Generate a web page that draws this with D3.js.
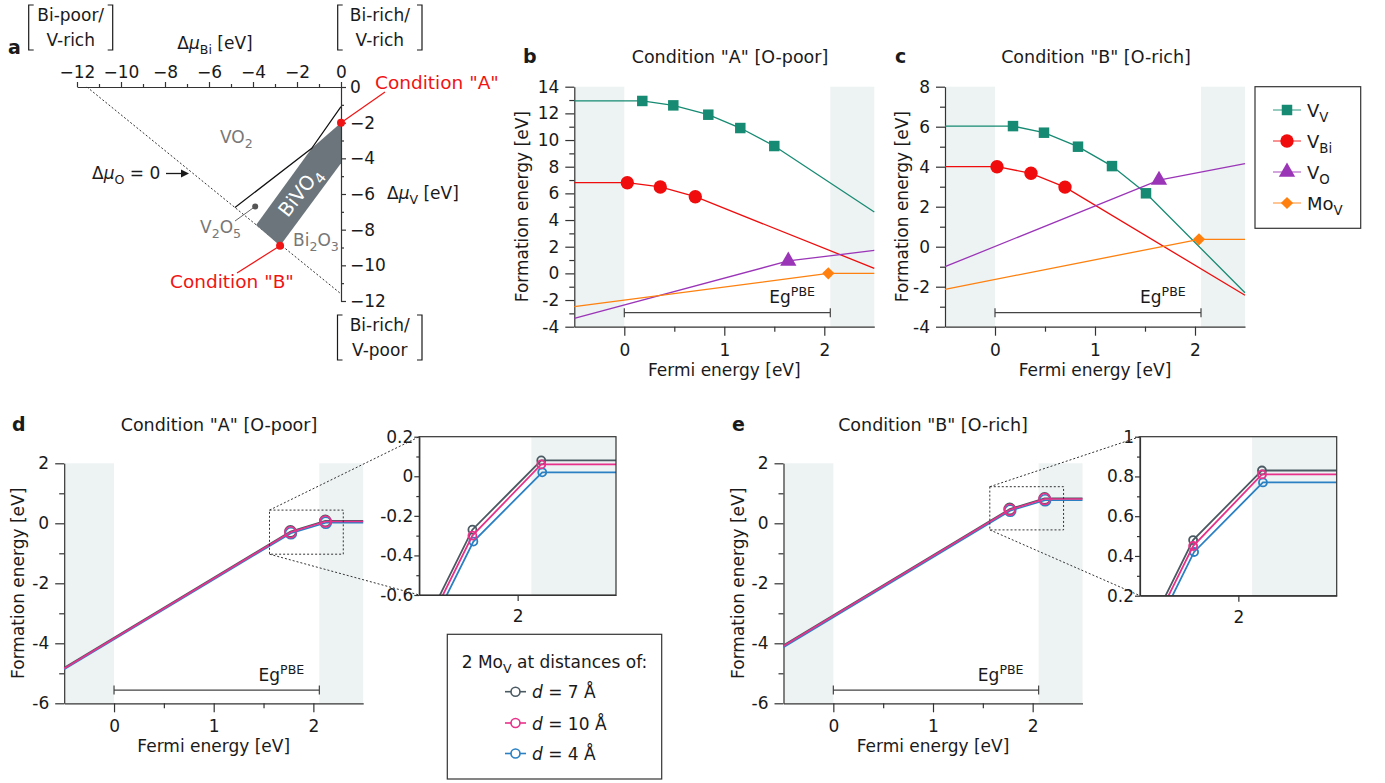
<!DOCTYPE html>
<html>
<head>
<meta charset="utf-8">
<script src="https://cdn.jsdelivr.net/npm/d3@7/dist/d3.min.js"></script>
<style>
  body { margin: 0; background: #fff; }
  svg text { font-family: "DejaVu Sans", sans-serif; }
</style>
</head>
<body>
<svg id="fig" width="1385" height="783"></svg>
<script>
// ---- values (all in eV) ----

// a: chemical potential map (x = mu_Bi, y = mu_V)
const muBiTicks = [-12, -10, -8, -6, -4, -2, 0];
const muVTicks = [0, -2, -4, -6, -8, -10, -12];
const bivo4Region = [[0, -2.0], [0, -4.28], [-2.77, -8.9], [-3.86, -7.74], [-1.33, -3.44]];
const muOZeroLine = [[-11.55, 0], [0, -11.6]];
const vo2Boundary = [[-4.82, -6.76], [-1.33, -3.44], [0, -1.1]];
const conditionA = [0, -2.0];
const conditionB = [-2.77, -8.9];
const v2o5Point = [-3.9, -6.7];

// b, c: [Fermi energy, formation energy]; inner points are the transition levels
const vvA  = [[-0.5, 12.93], [0.18, 12.93], [0.49, 12.6], [0.84, 11.9], [1.16, 10.9], [1.50, 9.55], [2.5, 4.6]];
const vbiA = [[-0.5, 6.8], [0.03, 6.8], [0.36, 6.48], [0.71, 5.75], [2.5, 0.38]];
const voA  = [[-0.5, -3.37], [1.64, 0.93], [2.5, 1.72]];
const movA = [[-0.5, -2.5], [2.04, 0.0], [2.5, 0.0]];

const vvB  = [[-0.5, 6.03], [0.18, 6.03], [0.49, 5.7], [0.83, 5.0], [1.17, 4.03], [1.51, 2.67], [2.5, -2.3]];
const vbiB = [[-0.5, 4.0], [0.02, 4.0], [0.36, 3.67], [0.70, 2.98], [2.5, -2.43]];
const voB  = [[-0.5, -1.0], [1.64, 3.33], [2.5, 4.15]];
const movB = [[-0.5, -2.13], [2.04, 0.37], [2.5, 0.37]];

// d, e: two Mo_V at d = 7, 10, 4 Å
const mo7A  = [[-0.5, -4.81], [1.77, -0.27], [2.12, 0.08], [2.5, 0.08]];
const mo10A = [[-0.5, -4.84], [1.77, -0.30], [2.12, 0.06], [2.5, 0.06]];
const mo4A  = [[-0.5, -4.87], [1.775, -0.33], [2.125, 0.02], [2.5, 0.02]];
const mo7B  = [[-0.5, -4.06], [1.77, 0.48], [2.12, 0.83], [2.5, 0.83]];
const mo10B = [[-0.5, -4.09], [1.77, 0.45], [2.12, 0.81], [2.5, 0.81]];
const mo4B  = [[-0.5, -4.13], [1.775, 0.42], [2.125, 0.77], [2.5, 0.77]];

const gapEdges = [0, 2.06];
const fermiTicks = [0, 1, 2];
const fermiMinor = [0.5, 1.5];

// ---- styles ----
const INK = "#1a1a1a", AX = "#333", BAND = "#edf2f2";
const cVV = "#168a72", cVBi = "#f00c0c", cVO = "#9b35b8", cMoV = "#ff800e";
const c7 = "#4b5a62", c10 = "#e8318a", c4 = "#2a80c3";

const svg = d3.select("#fig");
const fmtInt = d => String(d);                 // figure uses plain hyphen
const fmtDec = d => d === 0 ? "0" : String(Math.round(d * 10) / 10);

// text with sub/superscripts and italics
function rich(sel, x, y, parts, size, anchor, fill) {
  const t = sel.append("text").attr("x", x).attr("y", y)
    .attr("font-size", size).attr("text-anchor", anchor || "start").attr("fill", fill || INK);
  let shift = 0;
  parts.forEach(p => {
    const [s, k] = typeof p === "string" ? [p, "n"] : p;
    const target = k === "sub" ? size * 0.3 : k === "sup" ? -size * 0.4 : 0;
    const ts = t.append("tspan").text(s).attr("dy", target - shift);
    shift = target;
    if (k === "sub" || k === "sup") ts.attr("font-size", size * 0.74);
    if (k === "i") ts.attr("font-style", "italic");
  });
  return t;
}

function styleAxis(sel, size) {
  sel.attr("font-family", null).attr("font-size", size).attr("color", AX);
  sel.selectAll("text").attr("fill", INK);
  sel.selectAll("line,path").attr("stroke-width", 1.2);
}

function symbolPath(shape) {
  if (shape === "square") return d3.symbol(d3.symbolSquare, 110)();
  if (shape === "circle") return d3.symbol(d3.symbolCircle, 140)();
  if (shape === "triangle") return d3.symbol(d3.symbolTriangle, 115)();
  return d3.symbol(d3.symbolSquare, 75)();
}

function drawSeries(g, x, y, pts, color, width, shape, r) {
  g.append("path").datum(pts)
    .attr("d", d3.line().x(d => x(d[0])).y(d => y(d[1])))
    .attr("fill", "none").attr("stroke", color).attr("stroke-width", width);
  const inner = pts.slice(1, -1);
  if (shape === "open") {
    g.selectAll(null).data(inner).enter().append("circle")
      .attr("cx", d => x(d[0])).attr("cy", d => y(d[1])).attr("r", r)
      .attr("fill", "none").attr("stroke", color).attr("stroke-width", width);
  } else {
    g.selectAll(null).data(inner).enter().append("path")
      .attr("d", symbolPath(shape))
      .attr("transform", d => `translate(${x(d[0])},${y(d[1])})` + (shape === "diamond" ? " rotate(45)" : ""))
      .attr("fill", color);
  }
}

// formation energy panel (b-e)
function fermiPanel(o) {
  const x = d3.scaleLinear().domain([-0.5, 2.5]).range(o.xr);
  const y = d3.scaleLinear().domain(o.yd).range(o.yr);
  const g = svg.append("g");
  const top = o.yr[1], bot = o.yr[0];
  [[-0.5, gapEdges[0]], [gapEdges[1], 2.5]].forEach(b =>
    g.append("rect").attr("x", x(b[0])).attr("y", top)
      .attr("width", x(b[1]) - x(b[0])).attr("height", bot - top).attr("fill", BAND));

  const ey = y(o.egY);
  g.append("path")
    .attr("d", `M${x(gapEdges[0])},${ey}H${x(gapEdges[1])}M${x(gapEdges[0])},${ey - 4.5}v9M${x(gapEdges[1])},${ey - 4.5}v9`)
    .attr("stroke", "#444").attr("stroke-width", 1.2).attr("fill", "none");
  rich(g, x(1.45), ey - 9.5, ["Eg", ["PBE", "sup"]], 17);

  g.append("g").attr("transform", `translate(${o.xr[0]},0)`)
    .call(d3.axisLeft(y).tickValues(o.yt).tickFormat(fmtInt).tickSize(9).tickPadding(6).tickSizeOuter(0))
    .call(s => styleAxis(s, 17));
  g.append("g").attr("transform", `translate(${o.xr[0]},0)`)
    .call(d3.axisLeft(y).tickValues(o.ym).tickFormat("").tickSize(5))
    .call(s => { s.select(".domain").remove(); styleAxis(s, 17); });
  g.append("g").attr("transform", `translate(0,${bot})`)
    .call(d3.axisBottom(x).tickValues(fermiTicks).tickFormat(fmtInt).tickSize(9).tickPadding(8).tickSizeOuter(0))
    .call(s => styleAxis(s, 17));
  g.append("g").attr("transform", `translate(0,${bot})`)
    .call(d3.axisBottom(x).tickValues(fermiMinor).tickFormat("").tickSize(5))
    .call(s => { s.select(".domain").remove(); styleAxis(s, 17); });

  g.append("text").attr("transform", `translate(${o.ylabX},${(top + bot) / 2}) rotate(-90)`)
    .attr("text-anchor", "middle").attr("font-size", 17).attr("fill", INK).text("Formation energy [eV]");
  g.append("text").attr("x", x(1)).attr("y", bot + 49).attr("text-anchor", "middle")
    .attr("font-size", 17).attr("fill", INK).text("Fermi energy [eV]");
  g.append("text").attr("x", o.titleX).attr("y", o.titleY).attr("text-anchor", "middle")
    .attr("font-size", 17.5).attr("fill", INK).text(o.title);
  g.append("text").attr("x", o.letterX).attr("y", o.titleY).attr("font-size", 19)
    .attr("font-weight", "bold").attr("fill", INK).text(o.letter);
  return { g, x, y };
}

// zoomed inset (d, e)
function insetPanel(o, id, series) {
  const x = d3.scaleLinear().domain([1.5, 2.5]).range(o.xr);
  const y = d3.scaleLinear().domain(o.yd).range(o.yr);
  const g = svg.append("g");
  const top = o.yr[1], bot = o.yr[0];
  g.append("rect").attr("x", x(2.07)).attr("y", top).attr("width", x(2.5) - x(2.07))
    .attr("height", bot - top).attr("fill", BAND);
  svg.append("clipPath").attr("id", id).append("rect")
    .attr("x", o.xr[0]).attr("y", top).attr("width", o.xr[1] - o.xr[0]).attr("height", bot - top);
  const lines = g.append("g").attr("clip-path", `url(#${id})`);
  series.forEach(s => drawSeries(lines, x, y, s.pts, s.color, 1.8, "open", 4));
  g.append("rect").attr("x", o.xr[0]).attr("y", top).attr("width", o.xr[1] - o.xr[0])
    .attr("height", bot - top).attr("fill", "none").attr("stroke", AX).attr("stroke-width", 1.2);
  g.append("g").attr("transform", `translate(${o.xr[0]},0)`)
    .call(d3.axisLeft(y).tickValues(o.yt).tickFormat(fmtDec).tickSize(5).tickPadding(1).tickSizeOuter(0))
    .call(s => styleAxis(s, 17));
  g.append("g").attr("transform", `translate(${o.xr[0]},0)`)
    .call(d3.axisLeft(y).tickValues(o.ym).tickFormat("").tickSize(3))
    .call(s => { s.select(".domain").remove(); styleAxis(s, 17); });
  g.append("g").attr("transform", `translate(0,${bot})`)
    .call(d3.axisBottom(x).tickValues([2]).tickFormat(fmtInt).tickSize(6).tickPadding(9).tickSizeOuter(0))
    .call(s => styleAxis(s, 17));
  return { x, y };
}

function zoomBox(p, box, ins) {
  const x0 = p.x(box[0]), x1 = p.x(box[1]), y0 = p.y(box[3]), y1 = p.y(box[2]);
  const dots = svg.append("g").attr("fill", "none").attr("stroke", AX)
    .attr("stroke-width", 1).attr("stroke-dasharray", "2,2");
  dots.append("rect").attr("x", x0).attr("y", y0).attr("width", x1 - x0).attr("height", y1 - y0);
  dots.append("line").attr("x1", x0).attr("y1", y0).attr("x2", ins.x.range()[0]).attr("y2", ins.y.range()[1]);
  dots.append("line").attr("x1", x0).attr("y1", y1).attr("x2", ins.x.range()[0]).attr("y2", ins.y.range()[0]);
}

// ---------------- panel a ----------------
const xa = d3.scaleLinear().domain([-12, 0]).range([77, 341]);
const ya = d3.scaleLinear().domain([-12, 0]).range([301, 87]);
const ga = svg.append("g");

ga.append("path").datum(muOZeroLine).attr("d", d3.line().x(d => xa(d[0])).y(d => ya(d[1])))
  .attr("stroke", AX).attr("stroke-width", 1).attr("stroke-dasharray", "2,2").attr("fill", "none");
ga.append("path").datum(bivo4Region).attr("d", d3.line().x(d => xa(d[0])).y(d => ya(d[1])).curve(d3.curveLinearClosed))
  .attr("fill", "#6b757b");
ga.append("path").datum(vo2Boundary).attr("d", d3.line().x(d => xa(d[0])).y(d => ya(d[1])))
  .attr("stroke", "#111").attr("stroke-width", 1.2).attr("fill", "none");

ga.append("g").attr("transform", `translate(0,${ya(0)})`)
  .call(d3.axisTop(xa).tickValues(muBiTicks).tickSize(5).tickPadding(4).tickSizeOuter(0))
  .call(s => styleAxis(s, 17));
ga.append("g").attr("transform", `translate(0,${ya(0)})`)
  .call(d3.axisTop(xa).tickValues(d3.range(-11, 0, 2)).tickFormat("").tickSize(3))
  .call(s => { s.select(".domain").remove(); styleAxis(s, 17); });
ga.append("g").attr("transform", `translate(${xa(0)},0)`)
  .call(d3.axisRight(ya).tickValues(muVTicks).tickSize(5).tickPadding(4).tickSizeOuter(0))
  .call(s => styleAxis(s, 17));
ga.append("g").attr("transform", `translate(${xa(0)},0)`)
  .call(d3.axisRight(ya).tickValues(d3.range(-11, 0, 2)).tickFormat("").tickSize(3))
  .call(s => { s.select(".domain").remove(); styleAxis(s, 17); });
ga.selectAll(".tick text").filter(d => d === 0).text("0");

// V2O5 marker and labels
ga.append("line").attr("x1", xa(v2o5Point[0])).attr("y1", ya(v2o5Point[1])).attr("x2", 235).attr("y2", 221)
  .attr("stroke", "#666").attr("stroke-width", 1);
ga.append("circle").attr("cx", xa(v2o5Point[0])).attr("cy", ya(v2o5Point[1])).attr("r", 3).attr("fill", "#555");
rich(ga, 220, 143, ["VO", ["2", "sub"]], 17, "start", "#777");
rich(ga, 200, 233, ["V", ["2", "sub"], "O", ["5", "sub"]], 17, "start", "#777");
rich(ga, 293, 246, ["Bi", ["2", "sub"], "O", ["3", "sub"]], 17, "start", "#777");
rich(ga, 0, 0, ["BiVO", ["4", "sub"]], 19.5, "middle", "#fff").attr("transform", "translate(305,196) rotate(-52)");

// conditions
const RED = "#f01414";
ga.append("line").attr("x1", xa(conditionA[0])).attr("y1", ya(conditionA[1])).attr("x2", 385).attr("y2", 92)
  .attr("stroke", RED).attr("stroke-width", 1.2);
ga.append("line").attr("x1", xa(conditionB[0])).attr("y1", ya(conditionB[1])).attr("x2", 237).attr("y2", 273)
  .attr("stroke", RED).attr("stroke-width", 1.2);
[conditionA, conditionB].forEach(c => ga.append("circle").attr("cx", xa(c[0])).attr("cy", ya(c[1])).attr("r", 4).attr("fill", RED));
ga.append("text").attr("x", 375).attr("y", 88.5).attr("font-size", 18.5).attr("fill", RED).text('Condition "A"');
ga.append("text").attr("x", 170).attr("y", 287.5).attr("font-size", 18.5).attr("fill", RED).text('Condition "B"');

// mu_O = 0 arrow
rich(ga, 92, 179, ["Δ", ["μ", "i"], ["O", "sub"], " = 0"], 17);
ga.append("line").attr("x1", 166).attr("y1", 173.5).attr("x2", 183).attr("y2", 173.5).attr("stroke", INK).attr("stroke-width", 1.3);
ga.append("path").attr("d", "M189,173.5 L181,169.5 L181,177.5 Z").attr("fill", INK);

// axis titles and bracket notes
rich(ga, 215, 49, ["Δ", ["μ", "i"], ["Bi", "sub"], " [eV]"], 17, "middle");
rich(ga, 387, 199, ["Δ", ["μ", "i"], ["V", "sub"], " [eV]"], 17);
function bracket(x0, x1, y0, y1, l1, l2) {
  ga.append("path").attr("d", `M${x0 + 5},${y0}H${x0}V${y1}H${x0 + 5}M${x1 - 5},${y0}H${x1}V${y1}H${x1 - 5}`)
    .attr("fill", "none").attr("stroke", INK).attr("stroke-width", 1.2);
  const cx = (x0 + x1) / 2;
  ga.append("text").attr("x", cx).attr("y", y0 + 16).attr("text-anchor", "middle").attr("font-size", 17).attr("fill", INK).text(l1);
  ga.append("text").attr("x", cx).attr("y", y0 + 41).attr("text-anchor", "middle").attr("font-size", 17).attr("fill", INK).text(l2);
}
bracket(28.7, 112.7, 5, 50, "Bi-poor/", "V-rich");
bracket(337.7, 422, 5, 50, "Bi-rich/", "V-rich");
bracket(337.5, 422, 315, 360, "Bi-rich/", "V-poor");
ga.append("text").attr("x", 8).attr("y", 54).attr("font-size", 19).attr("font-weight", "bold").attr("fill", INK).text("a");

// ---------------- panels b, c ----------------
const singleDefects = [
  { a: vvA, b: vvB, color: cVV, shape: "square", label: ["V", ["V", "sub"]] },
  { a: vbiA, b: vbiB, color: cVBi, shape: "circle", label: ["V", ["Bi", "sub"]] },
  { a: voA, b: voB, color: cVO, shape: "triangle", label: ["V", ["O", "sub"]] },
  { a: movA, b: movB, color: cMoV, shape: "diamond", label: ["Mo", ["V", "sub"]] }
];

const pb = fermiPanel({ xr: [574.3, 874.3], yr: [326.7, 86.7], yd: [-4, 14],
  yt: d3.range(-4, 15, 2), ym: d3.range(-3, 14, 2), egY: -2.95,
  ylabX: 528, title: 'Condition "A" [O-poor]', titleX: 730, titleY: 63, letter: "b", letterX: 523 });
singleDefects.forEach(s => drawSeries(pb.g, pb.x, pb.y, s.a, s.color, 1.3, s.shape));

const pc = fermiPanel({ xr: [945, 1245], yr: [326.7, 86.7], yd: [-4, 8],
  yt: d3.range(-4, 9, 2), ym: d3.range(-3, 8, 2), egY: -3.3,
  ylabX: 908, title: 'Condition "B" [O-rich]', titleX: 1096, titleY: 63, letter: "c", letterX: 895 });
singleDefects.forEach(s => drawSeries(pc.g, pc.x, pc.y, s.b, s.color, 1.3, s.shape));

// legend for b, c
const lg = svg.append("g");
lg.append("rect").attr("x", 1255).attr("y", 86.7).attr("width", 105.7).attr("height", 141.6)
  .attr("fill", "#fff").attr("stroke", AX).attr("stroke-width", 1.2);
singleDefects.forEach((s, i) => {
  const yy = 110 + i * 31;
  lg.append("line").attr("x1", 1273).attr("x2", 1301).attr("y1", yy).attr("y2", yy)
    .attr("stroke", s.color).attr("stroke-width", 1.5).attr("stroke-opacity", 0.6);
  lg.append("path").attr("d", symbolPath(s.shape))
    .attr("transform", `translate(1287,${yy})` + (s.shape === "diamond" ? " rotate(45)" : "")).attr("fill", s.color);
  rich(lg, 1307, yy + 6.5, s.label, 18);
});

// ---------------- panels d, e ----------------
const pairSeries = (p7, p10, p4) => [
  { pts: p7, color: c7 }, { pts: p4, color: c4 }, { pts: p10, color: c10 }
];

const pd = fermiPanel({ xr: [64.2, 363.2], yr: [703.3, 463.3], yd: [-6, 2],
  yt: d3.range(-6, 3, 2), ym: d3.range(-5, 2, 2), egY: -5.56,
  ylabX: 24, title: 'Condition "A" [O-poor]', titleX: 219, titleY: 431, letter: "d", letterX: 12 });
pairSeries(mo7A, mo10A, mo4A).forEach(s => drawSeries(pd.g, pd.x, pd.y, s.pts, s.color, 1.6, "open", 5.5));
const insD = insetPanel({ xr: [419.3, 616], yr: [595, 436.7], yd: [-0.6, 0.2],
  yt: [-0.6, -0.4, -0.2, 0, 0.2], ym: [-0.5, -0.3, -0.1, 0.1] }, "clipD", pairSeries(mo7A, mo10A, mo4A));
zoomBox(pd, [1.56, 2.3, -1.03, 0.44], insD);

const pe = fermiPanel({ xr: [783.5, 1082.5], yr: [703.3, 463.3], yd: [-6, 2],
  yt: d3.range(-6, 3, 2), ym: d3.range(-5, 2, 2), egY: -5.56,
  ylabX: 744, title: 'Condition "B" [O-rich]', titleX: 933, titleY: 431, letter: "e", letterX: 732 });
pairSeries(mo7B, mo10B, mo4B).forEach(s => drawSeries(pe.g, pe.x, pe.y, s.pts, s.color, 1.6, "open", 5.5));
const insE = insetPanel({ xr: [1140, 1336.7], yr: [595.7, 436.7], yd: [0.2, 1],
  yt: [0.2, 0.4, 0.6, 0.8, 1], ym: [0.3, 0.5, 0.7, 0.9] }, "clipE", pairSeries(mo7B, mo10B, mo4B));
zoomBox(pe, [1.57, 2.31, -0.22, 1.22], insE);

// legend for d, e
const lg2 = svg.append("g");
lg2.append("rect").attr("x", 447.3).attr("y", 634.3).attr("width", 214.4).attr("height", 144.7)
  .attr("fill", "#fff").attr("stroke", AX).attr("stroke-width", 1.2);
rich(lg2, 554.5, 668, ["2 Mo", ["V", "sub"], " at distances of:"], 17, "middle");
[[c7, "7"], [c10, "10"], [c4, "4"]].forEach((e, i) => {
  const yy = [691.7, 723, 753.5][i];
  lg2.append("line").attr("x1", 505).attr("x2", 526).attr("y1", yy).attr("y2", yy)
    .attr("stroke", e[0]).attr("stroke-width", 1.6);
  lg2.append("circle").attr("cx", 515.5).attr("cy", yy).attr("r", 4.5)
    .attr("fill", "#fff").attr("stroke", e[0]).attr("stroke-width", 1.6);
  rich(lg2, 532, yy + 6.5, [["d", "i"], ` = ${e[1]} Å`], 17);
});
</script>
</body>
</html>
